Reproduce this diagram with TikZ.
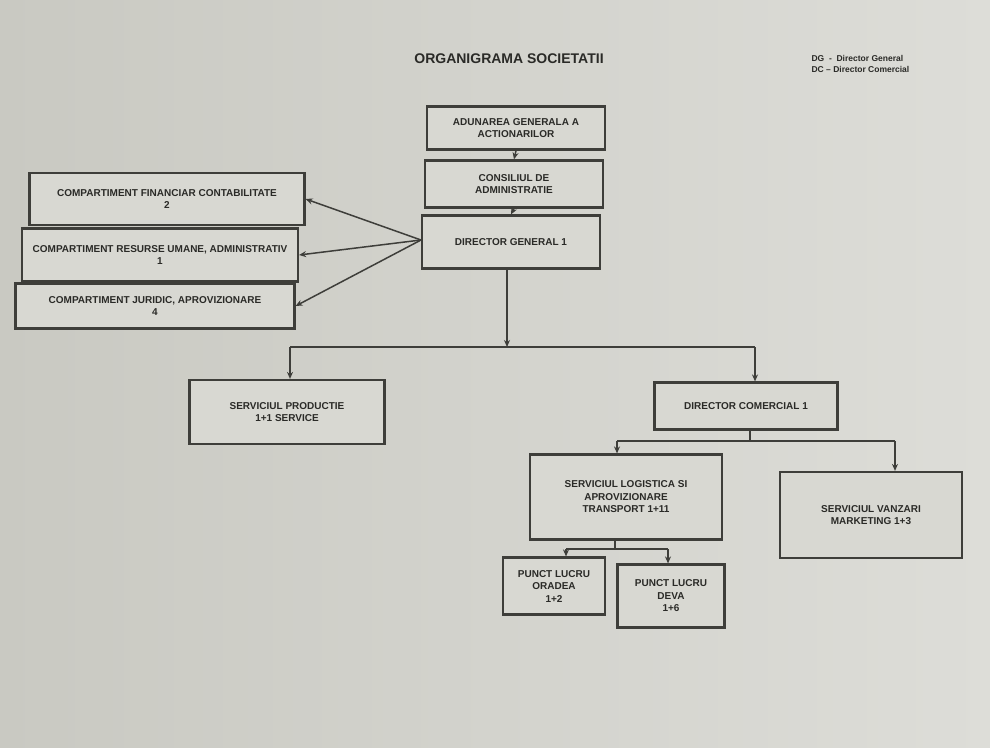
\documentclass[tikz,border=0pt]{standalone}
\usepackage{fontspec}
\setmainfont{Liberation Sans}
\usetikzlibrary{arrows.meta}
\definecolor{paperdark}{HTML}{C9C9C2}
\definecolor{paperlight}{HTML}{DDDDD8}
\definecolor{boxfill}{HTML}{D8D8D2}
\definecolor{ink}{HTML}{3E3E3A}
\definecolor{txt}{HTML}{2A2A27}
\tikzset{
  orgbox/.style={draw=ink, line width=2.2pt, fill=boxfill, inner sep=0pt, align=center,
    font=\fontsize{10}{12.5}\selectfont\bfseries, text=txt},
  link/.style={draw=ink, line width=1.5pt},
  arr/.style={link, -{Stealth[length=7pt,width=6pt]}},
}
\begin{document}
\begin{tikzpicture}[x=1pt,y=-1pt]
\shade[left color=paperdark, right color=paperlight] (0,0) rectangle (990,747);
\useasboundingbox (0,0) rectangle (990,747);

% title and legend
\node[font=\fontsize{14}{16}\selectfont\bfseries, text=txt] (title) at (509,59) {ORGANIGRAMA SOCIETATII};
\node[font=\fontsize{8.5}{11}\selectfont\bfseries, text=txt, align=left, anchor=west] (legend) at (808,64)
  {DG \;-\; Director General\\DC -- Director Comercial};

% boxes
\node[orgbox, minimum width=178pt, minimum height=43pt] (aga) at (516,128) {ADUNAREA GENERALA A\\ACTIONARILOR};
\node[orgbox, minimum width=178pt, minimum height=47pt] (ca) at (514,184) {CONSILIUL DE\\ADMINISTRATIE};
\node[orgbox, minimum width=178pt, minimum height=53pt] (dg) at (511,242) {DIRECTOR GENERAL 1};

\node[orgbox, minimum width=275pt, minimum height=52pt] (fin) at (167,199) {COMPARTIMENT FINANCIAR CONTABILITATE\\2};
\node[orgbox, minimum width=276pt, minimum height=53pt] (ru) at (160,255) {COMPARTIMENT RESURSE UMANE, ADMINISTRATIV\\1};
\node[orgbox, minimum width=279pt, minimum height=45pt] (jur) at (155,306) {COMPARTIMENT JURIDIC, APROVIZIONARE\\4};

\node[orgbox, minimum width=195pt, minimum height=64pt] (prod) at (287,412) {SERVICIUL PRODUCTIE\\1+1 SERVICE};
\node[orgbox, minimum width=183pt, minimum height=47pt] (dc) at (746,406) {DIRECTOR COMERCIAL 1};
\node[orgbox, minimum width=192pt, minimum height=85pt] (log) at (626,497) {SERVICIUL LOGISTICA SI\\APROVIZIONARE\\TRANSPORT 1+11};
\node[orgbox, minimum width=182pt, minimum height=86pt] (vz) at (871,515) {SERVICIUL VANZARI\\MARKETING 1+3};
\node[orgbox, minimum width=102pt, minimum height=57pt] (p1) at (554,586) {PUNCT LUCRU\\ORADEA\\1+2};
\node[orgbox, minimum width=107pt, minimum height=63pt] (p2) at (671,596) {PUNCT LUCRU\\DEVA\\1+6};

% junction coordinates
\coordinate (j1) at (507,347);
\coordinate (j1l) at (290,347);
\coordinate (j1r) at (755,347);
\coordinate (j2) at (750,441);
\coordinate (j2l) at (617,441);
\coordinate (j2r) at (895,441);
\coordinate (j3) at (615,549);
\coordinate (j3l) at (566,549);
\coordinate (j3r) at (668,549);
\coordinate (fan) at (421,240);

% connectors
\draw[arr] (aga.south) -- (ca.north);
\draw[arr] (ca.south) -- (dg.north);
\draw[arr] (fan) -- (fin.east);
\draw[arr] (fan) -- (ru.east);
\draw[arr] (fan) -- (jur.east);
\draw[arr] (dg.south -| j1) -- (j1);
\draw[link] (j1l) -- (j1r);
\draw[arr] (j1l) -- (j1l |- prod.north);
\draw[arr] (j1r) -- (j1r |- dc.north);
\draw[link] (dc.south -| j2) -- (j2);
\draw[link] (j2l) -- (j2r);
\draw[arr] (j2l) -- (j2l |- log.north);
\draw[arr] (j2r) -- (j2r |- vz.north);
\draw[link] (log.south -| j3) -- (j3);
\draw[link] (j3l) -- (j3r);
\draw[arr] (j3l) -- (j3l |- p1.north);
\draw[arr] (j3r) -- (j3r |- p2.north);
\end{tikzpicture}
\end{document}
